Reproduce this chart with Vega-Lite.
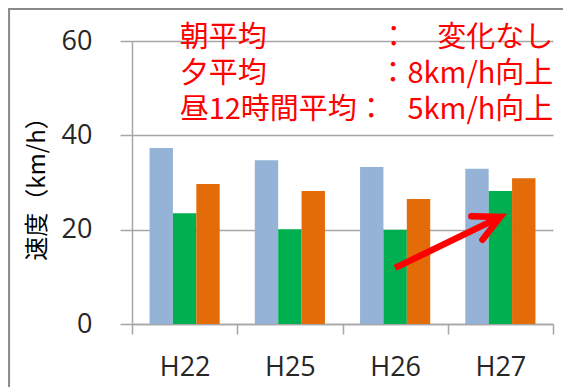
{
  "$schema": "https://vega.github.io/schema/vega-lite/v6.json",
  "width": 421,
  "height": 283,
  "autosize": {"type": "none"},
  "padding": {"left": 132, "top": 41, "right": 10, "bottom": 63},
  "background": "white",
  "config": {
    "view": {"stroke": null},
    "axis": {"labelFont": "Open Sans", "labelColor": "#262626", "labelFontSize": 27, "domainColor": "#A6A6A6", "tickColor": "#A6A6A6", "gridColor": "#A6A6A6", "domainWidth": 1.5, "tickWidth": 1.5, "gridWidth": 1.5}
  },
  "resolve": {"scale": {"x": "independent", "y": "independent"}},
  "layer": [
    {
      "data": {"values": [{"fx0": -0.292, "fx1": 1.05, "fy0": 66.8, "fy1": -16}]},
      "mark": {"type": "rect", "fill": "transparent", "stroke": "#898989", "strokeWidth": 2, "clip": false},
      "encoding": {
        "x": {"field": "fx0", "type": "quantitative", "scale": {"domain": [0, 1], "nice": false, "zero": false}, "axis": null},
        "x2": {"field": "fx1"},
        "y": {"field": "fy0", "type": "quantitative", "scale": {"domain": [0, 60], "nice": false}, "axis": null},
        "y2": {"field": "fy1"}
      }
    },
    {
      "layer": [
        {
          "data": {"values": [
            {"year": "H22", "series": "朝平均", "speed": 37.3},
            {"year": "H22", "series": "夕平均", "speed": 23.5},
            {"year": "H22", "series": "昼12時間平均", "speed": 29.7},
            {"year": "H25", "series": "朝平均", "speed": 34.7},
            {"year": "H25", "series": "夕平均", "speed": 20.1},
            {"year": "H25", "series": "昼12時間平均", "speed": 28.2},
            {"year": "H26", "series": "朝平均", "speed": 33.3},
            {"year": "H26", "series": "夕平均", "speed": 20.0},
            {"year": "H26", "series": "昼12時間平均", "speed": 26.5},
            {"year": "H27", "series": "朝平均", "speed": 32.9},
            {"year": "H27", "series": "夕平均", "speed": 28.2},
            {"year": "H27", "series": "昼12時間平均", "speed": 30.9}
          ]},
          "mark": {"type": "bar"},
          "encoding": {
            "x": {
              "field": "year", "type": "nominal",
              "scale": {"domain": ["H22", "H25", "H26", "H27"], "paddingInner": 0, "paddingOuter": 0},
              "axis": {"title": null, "labelAngle": 0, "tickBand": "extent", "tickSize": 10, "labelPadding": 20, "grid": false}
            },
            "xOffset": {
              "field": "series", "type": "nominal",
              "scale": {"domain": ["朝平均", "夕平均", "昼12時間平均"], "paddingInner": 0, "paddingOuter": 0.75}
            },
            "y": {
              "field": "speed", "type": "quantitative",
              "scale": {"domain": [0, 60], "nice": false},
              "axis": {"title": "速度（km/h）", "values": [0, 20, 40, 60], "grid": true, "tickSize": 12, "labelPadding": 28, "titleFont": "Noto Sans CJK JP", "titleFontSize": 24, "titleFontWeight": "normal", "titleColor": "#000000", "titlePadding": 12}
            },
            "color": {
              "field": "series", "type": "nominal",
              "scale": {"domain": ["朝平均", "夕平均", "昼12時間平均"], "range": ["#95B3D7", "#00B050", "#E36C09"]},
              "legend": null
            }
          }
        },
        {
          "data": {"values": [
            {"label": "朝平均", "yv": 60.6},
            {"label": "夕平均", "yv": 53.0},
            {"label": "昼12時間平均：", "yv": 45.4}
          ]},
          "mark": {"type": "text", "align": "left", "baseline": "middle", "font": "Noto Sans CJK JP", "fontSize": 29, "color": "#FF0000", "dx": -5},
          "encoding": {
            "x": {"datum": "H22", "type": "nominal"},
            "y": {"field": "yv", "type": "quantitative"},
            "text": {"field": "label"}
          }
        },
        {
          "data": {"values": [
            {"label": "：　変化なし", "yv": 60.6},
            {"label": "：8km/h向上", "yv": 53.0},
            {"label": "5km/h向上", "yv": 45.4}
          ]},
          "mark": {"type": "text", "align": "right", "baseline": "middle", "font": "Noto Sans CJK JP", "fontSize": 29, "color": "#FF0000", "dx": 53},
          "encoding": {
            "x": {"datum": "H27", "type": "nominal"},
            "y": {"field": "yv", "type": "quantitative"},
            "text": {"field": "label"}
          }
        },
        {
          "data": {"values": [
            {"year": "H26", "av": 11.9},
            {"year": "H27", "av": 22.7}
          ]},
          "mark": {"type": "line", "color": "#FF0000", "strokeWidth": 6.5, "strokeCap": "butt"},
          "encoding": {
            "x": {"field": "year", "type": "nominal"},
            "y": {"field": "av", "type": "quantitative"}
          }
        },
        {
          "data": {"values": [{"year": "H27", "av": 22.7}]},
          "mark": {"type": "point", "shape": "M-1,-0.5L0,0L-1,0.5", "filled": false, "stroke": "#FF0000", "strokeWidth": 6.5, "strokeCap": "round", "strokeJoin": "miter", "size": 2700, "angle": -25.3, "opacity": 1},
          "encoding": {
            "x": {"field": "year", "type": "nominal"},
            "y": {"field": "av", "type": "quantitative"}
          }
        }
      ]
    }
  ]
}
